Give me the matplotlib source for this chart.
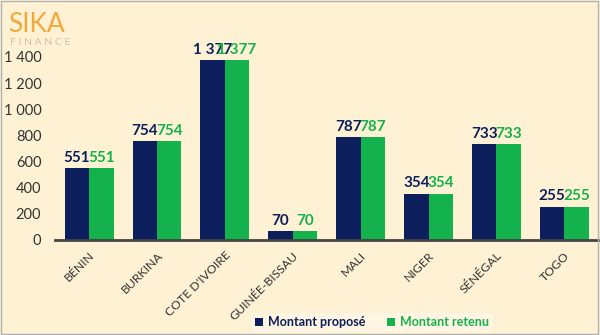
import numpy as np
import matplotlib.pyplot as plt
from matplotlib.ticker import FuncFormatter

pays = ["BÉNIN", "BURKINA", "COTE D'IVOIRE", "GUINÉE-BISSAU",
        "MALI", "NIGER", "SÉNÉGAL", "TOGO"]
montant_propose = [551, 754, 1377, 70, 787, 354, 733, 255]
montant_retenu = [551, 754, 1377, 70, 787, 354, 733, 255]

BLEU = "#0c1f5c"
VERT = "#14b24c"
FOND = "#fff2d4"

plt.rcParams["font.family"] = ["Lato", "DejaVu Sans"]


def fmt(v, pos=None):
    return f"{int(v):,}".replace(",", " ")


fig = plt.figure(figsize=(6, 3.35), dpi=100, facecolor=FOND)
ax = fig.add_axes([0.092, 0.2836, 0.905, 0.5464])
ax.set_facecolor(FOND)

x = np.arange(len(pays))
w = 0.36
b1 = ax.bar(x - w / 2, montant_propose, w, color=BLEU, label="Montant proposé")
b2 = ax.bar(x + w / 2, montant_retenu, w, color=VERT, label="Montant retenu")

for rect, v in zip(b1, montant_propose):
    ax.text(rect.get_x() + rect.get_width() / 2, v + 25, fmt(v), ha="center",
            va="bottom", color=BLEU, fontsize=11, fontweight="bold", clip_on=False)
for rect, v in zip(b2, montant_retenu):
    ax.text(rect.get_x() + rect.get_width() / 2, v + 25, fmt(v), ha="center",
            va="bottom", color=VERT, fontsize=11, fontweight="bold", clip_on=False)

ax.set_xlim(-0.5, len(pays) - 0.5)
ax.set_ylim(0, 1400)
ax.set_yticks(range(0, 1401, 200))
ax.yaxis.set_major_formatter(FuncFormatter(fmt))
ax.set_xticks(x)
ax.set_xticklabels(pays, rotation=45, ha="right", rotation_mode="anchor",
                   fontsize=8.8, color="#333333")
ax.tick_params(axis="both", length=0)
ax.tick_params(axis="y", labelsize=10.5, colors="#333333", pad=10)
ax.tick_params(axis="x", pad=7)
for s in ["top", "right", "left"]:
    ax.spines[s].set_visible(False)
ax.spines["bottom"].set_color("#444444")
ax.spines["bottom"].set_linewidth(2)

leg = fig.legend(handles=[b1, b2], loc="center", bbox_to_anchor=(0.62, 0.038),
                 ncol=2, frameon=True, fontsize=9, handlelength=0.6,
                 handleheight=0.6, handletextpad=0.4, columnspacing=1.8,
                 borderpad=0.3)
leg.get_frame().set_facecolor("#fff7e6")
leg.get_frame().set_edgecolor("none")
for t, c in zip(leg.get_texts(), [BLEU, VERT]):
    t.set_color(c)
    t.set_fontweight("bold")

# logo
fig.text(0.014, 0.928, "SIKA", color="#f2a93b", fontsize=19,
         ha="left", va="center")
fig.text(0.016, 0.873, "F I N A N C E", color="#d6c09c", fontsize=7.5,
         ha="left", va="center")

# cadre
fig.add_artist(plt.Rectangle((0.002, 0.003), 0.994, 0.994, transform=fig.transFigure,
                             fill=False, edgecolor="#b0b0b0", linewidth=1))

fig.savefig("out.png", dpi=100, facecolor=FOND)
